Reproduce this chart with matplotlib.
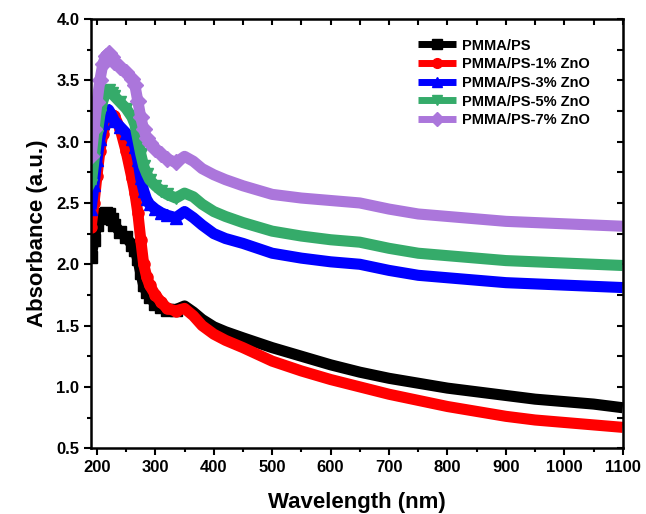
import numpy as np
import matplotlib
matplotlib.use('Agg')
from matplotlib import pyplot as plt
from matplotlib.ticker import MultipleLocator

plt.rcParams['font.family'] = 'Liberation Sans'
plt.rcParams['font.weight'] = 'bold'

# wavelength (nm)
wl = [190, 195, 200, 205, 210, 215, 220, 225, 230, 240, 250, 260, 265, 270, 275,
      280, 285, 290, 300, 310, 320, 335, 350, 365, 380, 400, 420, 450, 500, 550,
      600, 650, 700, 750, 800, 850, 900, 950, 1000, 1050, 1100]

pmma_ps = [2.06, 2.20, 2.32, 2.38, 2.41, 2.42, 2.41, 2.37, 2.32, 2.26, 2.22, 2.16, 2.12, 2.04, 1.93,
           1.83, 1.77, 1.73, 1.68, 1.65, 1.63, 1.63, 1.66, 1.61, 1.55, 1.49, 1.45, 1.40, 1.32, 1.25,
           1.18, 1.12, 1.07, 1.03, 0.99, 0.96, 0.93, 0.90, 0.88, 0.86, 0.83]
zno_1 = [2.30, 2.50, 2.72, 2.92, 3.06, 3.15, 3.20, 3.22, 3.21, 3.10, 2.92, 2.70, 2.58, 2.42, 2.20,
         2.00, 1.90, 1.83, 1.75, 1.69, 1.64, 1.62, 1.64, 1.58, 1.50, 1.43, 1.38, 1.32, 1.21, 1.13,
         1.06, 1.00, 0.94, 0.89, 0.84, 0.80, 0.76, 0.73, 0.71, 0.69, 0.67]
zno_3 = [2.45, 2.65, 2.85, 3.02, 3.15, 3.23, 3.26, 3.22, 3.17, 3.12, 3.07, 3.02, 2.96, 2.85, 2.70,
         2.60, 2.53, 2.49, 2.45, 2.42, 2.40, 2.38, 2.43, 2.38, 2.32, 2.25, 2.21, 2.17, 2.09, 2.05,
         2.02, 2.00, 1.95, 1.91, 1.89, 1.87, 1.85, 1.84, 1.83, 1.82, 1.81]
zno_5 = [2.65, 2.85, 3.05, 3.22, 3.33, 3.40, 3.42, 3.40, 3.37, 3.32, 3.27, 3.20, 3.14, 3.02, 2.90,
         2.80, 2.74, 2.69, 2.64, 2.60, 2.57, 2.54, 2.58, 2.55, 2.49, 2.43, 2.39, 2.34, 2.27, 2.23,
         2.20, 2.18, 2.13, 2.09, 2.07, 2.05, 2.03, 2.02, 2.01, 2.00, 1.99]
zno_7 = [2.88, 3.10, 3.32, 3.50, 3.63, 3.70, 3.72, 3.69, 3.65, 3.61, 3.57, 3.51, 3.46, 3.33, 3.20,
         3.10, 3.03, 2.99, 2.94, 2.90, 2.86, 2.83, 2.88, 2.84, 2.78, 2.73, 2.69, 2.64, 2.57, 2.54,
         2.52, 2.50, 2.45, 2.41, 2.39, 2.37, 2.35, 2.34, 2.33, 2.32, 2.31]

labels = ['PMMA/PS', 'PMMA/PS-1% ZnO', 'PMMA/PS-3% ZnO', 'PMMA/PS-5% ZnO', 'PMMA/PS-7% ZnO']
colors = ['black', '#ff0000', '#0000ff', '#35ab6a', '#ab76db']
markers = ['s', 'o', '^', 'v', 'D']

fig = plt.figure(figsize=(6.46, 5.14), dpi=100)
ax = fig.add_axes([0.141, 0.128, 0.823, 0.835])

# markers only visible where the curve is steep, the tail is a solid band
for y, lab, c, m in zip([pmma_ps, zno_1, zno_3, zno_5, zno_7], labels, colors, markers):
    ax.plot(wl, y, color=c, lw=8, marker=m, ms=8, markevery=slice(0, 22),
            label=lab, solid_joinstyle='round', solid_capstyle='butt')

ax.set_xlim(190, 1100)
ax.set_ylim(0.5, 4.0)
ax.xaxis.set_major_locator(MultipleLocator(100))
ax.xaxis.set_minor_locator(MultipleLocator(50))
ax.yaxis.set_major_locator(MultipleLocator(0.5))
ax.yaxis.set_minor_locator(MultipleLocator(0.25))
ax.tick_params(which='major', direction='out', length=5, width=1.5, labelsize=12)
ax.tick_params(which='minor', direction='out', length=3, width=1.5)
for s in ax.spines.values():
    s.set_linewidth(1.8)

# inward ticks on top and right
top = ax.secondary_xaxis('top')
top.xaxis.set_major_locator(MultipleLocator(100))
top.xaxis.set_minor_locator(MultipleLocator(50))
top.tick_params(which='both', direction='in', length=4, width=1.5, labeltop=False)
right = ax.secondary_yaxis('right')
right.yaxis.set_major_locator(MultipleLocator(0.5))
right.yaxis.set_minor_locator(MultipleLocator(0.25))
right.tick_params(which='both', direction='in', length=4, width=1.5, labelright=False)

ax.set_xlabel('Wavelength (nm)', fontsize=16, fontweight='bold', labelpad=12)
ax.set_ylabel('Absorbance (a.u.)', fontsize=16, fontweight='bold', labelpad=6)

leg = ax.legend(loc='upper left', bbox_to_anchor=(0.59, 0.985), frameon=False,
                fontsize=10.5, handlelength=2.6, labelspacing=0.32, handletextpad=0.4)
for h in leg.get_lines():
    h.set_linewidth(5)
    h.set_markersize(7)

fig.savefig('out.png', dpi=100)
